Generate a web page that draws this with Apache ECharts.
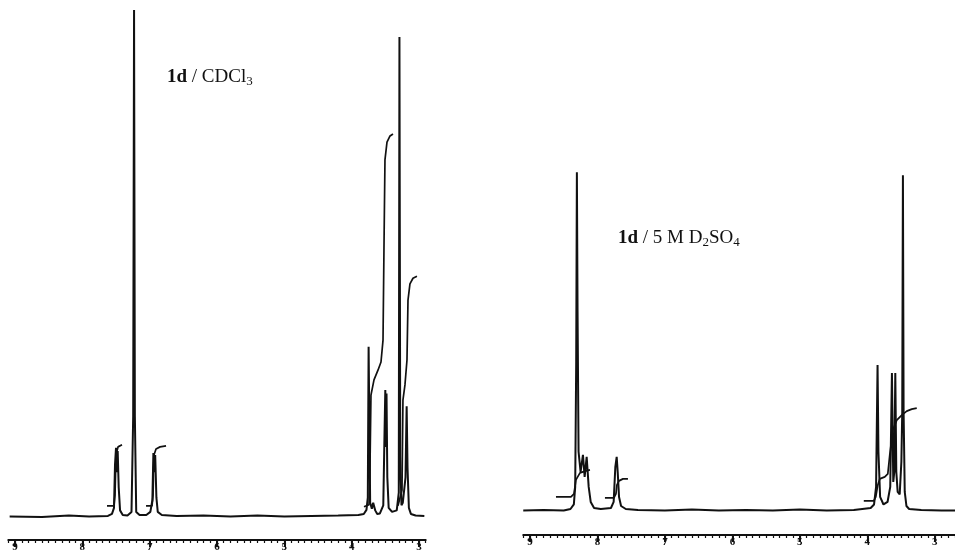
<!DOCTYPE html>
<html>
<head>
<meta charset="utf-8">
<script src="https://cdn.jsdelivr.net/npm/echarts@6/dist/echarts.min.js"></script>
<style>html,body{margin:0;padding:0;background:#fff;}#c{width:955px;height:556px;}</style>
</head>
<body>
<div id="c"></div>
<script>
// ppm tick labels
var tickPpm = [3, 4, 5, 6, 7, 8, 9];

// 1d / CDCl3 spectrum: [ppm, relative intensity]
var specCDCl3 = [
  [9.08,0.3],[8.6,0.2],[8.2,0.5],[7.9,0.3],[7.62,0.4],[7.56,0.8],[7.53,2.0],[7.515,10.5],[7.50,13.8],[7.487,9],
  [7.475,13.2],[7.46,6],[7.44,1.5],[7.40,0.6],[7.33,0.5],[7.27,1.2],[7.245,20],[7.232,100],[7.22,20],[7.20,1.2],
  [7.15,0.6],[7.05,0.6],[6.99,1.2],[6.96,3.5],[6.945,12.8],[6.932,9],[6.918,12.4],[6.90,4],[6.88,1.2],[6.82,0.6],
  [6.6,0.4],[6.2,0.5],[5.8,0.3],[5.4,0.5],[5.0,0.3],[4.6,0.4],[4.2,0.5],[3.9,0.6],[3.82,0.8],[3.78,1.6],
  [3.76,4],[3.748,33.7],[3.738,20],[3.725,3],[3.70,1.8],[3.68,3],[3.65,1.5],[3.62,0.8],[3.58,0.9],[3.53,2.5],
  [3.51,18],[3.50,25.2],[3.49,14],[3.482,24.5],[3.47,8],[3.45,2],[3.40,1.2],[3.33,1.5],[3.30,5],[3.29,94.7],
  [3.278,12],[3.26,2.5],[3.24,3],[3.20,8],[3.183,22],[3.17,10],[3.15,2],[3.12,0.8],[3.05,0.5],[2.92,0.4]
];
// integral traces, CDCl3
var intCDCl3A = [[7.634,2.4],[7.530,2.4],[7.515,4.5],[7.500,12.4],[7.470,14.0],[7.411,14.4]];
var intCDCl3B = [[7.054,2.4],[6.965,2.4],[6.950,4.5],[6.936,12.4],[6.906,13.6],[6.846,14.0],[6.757,14.2]];
var intCDCl3C = [[3.817,2.2],[3.742,2.6],[3.728,9.4],[3.713,24.2],[3.668,27.2],[3.609,29.1],[3.564,30.7],
  [3.534,35.0],[3.520,52.8],[3.505,70.5],[3.475,74.0],[3.430,75.2],[3.386,75.6]];
var intCDCl3D = [[3.312,2.4],[3.252,5.5],[3.238,23.2],[3.208,26.2],[3.178,31.1],[3.163,42.9],[3.134,46.1],
  [3.089,47.2],[3.030,47.6]];

// 1d / 5 M D2SO4 spectrum: [ppm, relative intensity]
var specD2SO4 = [
  [9.1,0.3],[8.8,0.4],[8.5,0.3],[8.40,0.6],[8.35,1.5],[8.33,5],[8.315,30],[8.305,67.7],[8.295,40],[8.28,12],
  [8.25,8],[8.215,11.4],[8.19,7],[8.16,11],[8.13,5],[8.10,2],[8.05,0.8],[7.95,0.6],[7.80,0.8],[7.76,2],
  [7.735,9],[7.715,11],[7.70,8],[7.68,3],[7.65,1.2],[7.58,0.6],[7.4,0.4],[7.0,0.3],[6.6,0.5],[6.2,0.3],
  [5.8,0.4],[5.4,0.3],[5.0,0.5],[4.6,0.3],[4.2,0.4],[3.95,0.8],[3.90,1.5],[3.87,5],[3.848,29.3],[3.835,12],
  [3.81,3],[3.76,1.5],[3.70,2],[3.66,5],[3.635,27.7],[3.615,6],[3.600,8],[3.585,27.7],[3.57,8],[3.55,4],
  [3.52,3.5],[3.495,10],[3.482,20],[3.472,67.1],[3.462,20],[3.445,4],[3.42,1.2],[3.38,0.6],[3.2,0.4],[2.9,0.3],[2.7,0.3]
];
// integral traces, D2SO4
var intD2SO4A = [[8.615,3.0],[8.393,3.0],[8.348,3.6],[8.319,6.4],[8.259,7.8],[8.170,8.2],[8.111,8.4]];
var intD2SO4B = [[7.889,2.8],[7.756,2.8],[7.726,3.6],[7.711,5.4],[7.681,6.2],[7.622,6.6],[7.548,6.6]];
var intD2SO4C = [[4.052,2.2],[3.904,2.2],[3.874,3.0],[3.844,5.4],[3.815,6.6],[3.741,7.0],[3.696,7.6],
  [3.667,11.4],[3.622,16.3],[3.563,18.3],[3.489,19.3],[3.415,20.1],[3.341,20.5],[3.267,20.7]];

var ink = '#111';
function lineSeries(data, xi, yi, w) {
  return {type:'line', data:data, xAxisIndex:xi, yAxisIndex:yi, showSymbol:false, symbol:'none',
    lineStyle:{color:ink, width:w}, animation:false, silent:true};
}
function minorAxis(grid, min, max, off) {
  return {type:'value', gridIndex:grid, position:'bottom', min:min, max:max, inverse:true, interval:0.1, offset:off,
    axisLine:{show:true, onZero:false, lineStyle:{color:ink, width:2}},
    axisTick:{show:true, length:3, lineStyle:{color:ink, width:1.2}},
    axisLabel:{show:false}, splitLine:{show:false}};
}
function majorAxis(grid, min, max, off) {
  return {type:'value', gridIndex:grid, position:'bottom', min:min, max:max, inverse:true, offset:off,
    axisLine:{show:false, onZero:false},
    axisTick:{show:true, customValues:tickPpm, length:7, lineStyle:{color:ink, width:2}},
    axisLabel:{show:true, customValues:tickPpm, margin:2, fontFamily:'Liberation Serif', fontWeight:'bold', fontSize:11, color:ink},
    splitLine:{show:false}};
}
var serif = 'Liberation Serif';
var richSty = {
  b:{fontFamily:serif, fontWeight:'bold', fontSize:19, fill:ink},
  s:{fontFamily:serif, fontSize:13, fill:ink, verticalAlign:'bottom', padding:[8,0,0,0]}
};
var chart = echarts.init(document.getElementById('c'));
chart.setOption({
  backgroundColor:'#fff',
  animation:false,
  grid:[
    {left:8.3, width:417.4, top:10, bottom:38, containLabel:false, outerBoundsMode:'none'},
    {left:523.25, width:431.75, top:10, bottom:44, containLabel:false, outerBoundsMode:'none'}
  ],
  xAxis:[
    minorAxis(0, 2.9, 9.1, 22), majorAxis(0, 2.9, 9.1, 22),
    minorAxis(1, 2.7, 9.1, 23), majorAxis(1, 2.7, 9.1, 23)
  ],
  yAxis:[
    {type:'value', gridIndex:0, min:0, max:100, show:false},
    {type:'value', gridIndex:1, min:0, max:100, show:false}
  ],
  series:[
    lineSeries(specCDCl3, 0, 0, 2),
    lineSeries(intCDCl3A, 0, 0, 1.7),
    lineSeries(intCDCl3B, 0, 0, 1.7),
    lineSeries(intCDCl3C, 0, 0, 1.7),
    lineSeries(intCDCl3D, 0, 0, 1.7),
    lineSeries(specD2SO4, 2, 1, 2),
    lineSeries(intD2SO4A, 2, 1, 1.7),
    lineSeries(intD2SO4B, 2, 1, 1.7),
    lineSeries(intD2SO4C, 2, 1, 1.7)
  ],
  graphic:[
    {type:'text', left:167, top:68, style:{text:'{b|1d} / CDCl{s|3}', fill:ink, fontFamily:serif, fontSize:19, rich:richSty}},
    {type:'text', left:618, top:229, style:{text:'{b|1d} / 5 M D{s|2}SO{s|4}', fill:ink, fontFamily:serif, fontSize:19, rich:richSty}}
  ]
});
</script>
</body>
</html>
